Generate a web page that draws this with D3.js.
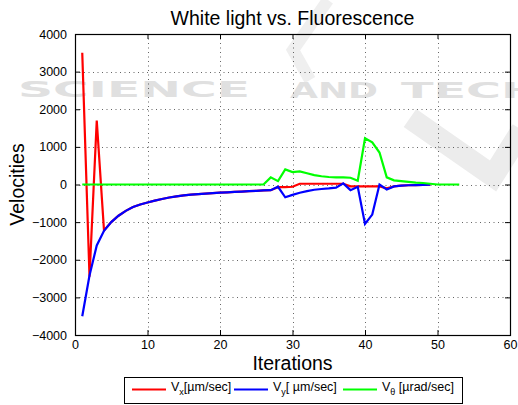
<!DOCTYPE html>
<html>
<head>
<meta charset="utf-8">
<script src="https://cdn.jsdelivr.net/npm/d3@7"></script>
<style>
  body { margin: 0; background: #fff; }
  svg { display: block; font-family: "Liberation Sans", Arial, Helvetica, sans-serif; }
</style>
</head>
<body>
<svg id="chart" width="518" height="405"></svg>
<script>
// Velocity series, one value per iteration (starting at iteration 1)
const vx = [3500, -2450, 1700, -1220, -1000, -830, -700, -600, -530, -480,
    -430, -385, -345, -315, -290, -270, -255, -240, -228, -218,
    -208, -198, -188, -178, -168, -158, -150, -70, -70, -60,
    20, 20, 20, 20, 20, 20, 20, -50, -50, -50,
    -50, -50, -100, -50, -30, -20, -15, -10, -5];
const vy = [-3500, -2420, -1620, -1230, -1000, -830, -700, -600, -530, -480,
    -430, -385, -345, -315, -290, -270, -255, -240, -228, -218,
    -208, -198, -188, -178, -168, -158, -150, -60, -340, -275,
    -220, -175, -140, -120, -105, -85, 30, -150, -60, -1050,
    -800, 0, -130, -50, -30, -20, -15, -10, -5];
const vtheta = [0, 0, 0, 0, 0, 0, 0, 0, 0, 0,
    0, 0, 0, 0, 0, 0, 0, 0, 0, 0,
    0, 0, 0, 0, 0, 0, 190, 90, 400, 330,
    350, 300, 250, 220, 200, 190, 190, 180, 100, 1230,
    1120, 850, 190, 110, 90, 70, 50, 40, 20, 0,
    0, 0, 0];

const xTicks = [0, 10, 20, 30, 40, 50, 60];
const yTicks = [-4000, -3000, -2000, -1000, 0, 1000, 2000, 3000, 4000];

const series = [
    { name: "x", unit: "[\u00b5m/sec]", color: "#ff0000", values: vx },
    { name: "y", unit: "[ \u00b5m/sec]", color: "#0000ff", values: vy },
    { name: "\u03b8", unit: " [\u00b5rad/sec]", color: "#00ff00", values: vtheta }
];

const svg = d3.select("#chart");
const pLeft = 75, pRight = 510, pTop = 34, pBottom = 335;

// faint publisher watermark behind the figure
const wm = svg.append("g").attr("fill", "#e0e0e0").attr("font-weight", "bold")
    .attr("font-family", "'DejaVu Sans', sans-serif");
wm.append("path").attr("d", "M410,118 L493,176 L522,130")
    .attr("fill", "none").attr("stroke", "#ececec").attr("stroke-width", 22);
wm.append("path").attr("d", "M328,0 L293,50 L310,80")
    .attr("fill", "none").attr("stroke", "#efefef").attr("stroke-width", 12);
wm.append("text").attr("x", 18).attr("y", 97).attr("font-size", 21)
    .attr("textLength", 232).attr("lengthAdjust", "spacingAndGlyphs").text("SCIENCE");
wm.append("text").attr("x", 290).attr("y", 98).attr("font-size", 22)
    .attr("textLength", 88).attr("lengthAdjust", "spacingAndGlyphs").text("AND");
wm.append("text").attr("x", 401).attr("y", 98).attr("font-size", 22)
    .attr("textLength", 140).attr("lengthAdjust", "spacingAndGlyphs").text("TECH");

const x = d3.scaleLinear().domain([0, 60]).range([pLeft, pRight]);
const y = d3.scaleLinear().domain([-4000, 4000]).range([pBottom, pTop]);

// dotted grid
const grid = svg.append("g").attr("stroke", "#333").attr("stroke-width", 1)
    .attr("stroke-dasharray", "1,3.5").attr("opacity", 0.75);
grid.selectAll(".gx").data(xTicks.slice(1, -1)).join("line")
    .attr("x1", d => Math.round(x(d)) + 0.5).attr("x2", d => Math.round(x(d)) + 0.5)
    .attr("y1", pTop).attr("y2", pBottom);
grid.selectAll(".gy").data(yTicks.slice(1, -1)).join("line")
    .attr("y1", d => Math.round(y(d)) + 0.5).attr("y2", d => Math.round(y(d)) + 0.5)
    .attr("x1", pLeft).attr("x2", pRight);

// lines: red, then blue, then green on top
const line = d3.line().x((d, i) => x(i + 1)).y(d => y(d));
svg.append("g").selectAll("path").data(series).join("path")
    .attr("fill", "none")
    .attr("stroke", d => d.color)
    .attr("stroke-width", 2.2)
    .attr("stroke-linejoin", "miter")
    .attr("d", d => line(d.values));

// axes with inward ticks on all four sides
const fmt = d => d < 0 ? "\u2212" + Math.abs(d) : String(d);
const axB = svg.append("g").attr("transform", `translate(0,${pBottom})`)
    .call(d3.axisBottom(x).tickValues(xTicks).tickSizeInner(-5).tickSizeOuter(0).tickPadding(8));
const axT = svg.append("g").attr("transform", `translate(0,${pTop})`)
    .call(d3.axisTop(x).tickValues(xTicks).tickSizeInner(-5).tickSizeOuter(0).tickFormat(""));
const axL = svg.append("g").attr("transform", `translate(${pLeft},0)`)
    .call(d3.axisLeft(y).tickValues(yTicks).tickFormat(fmt).tickSizeInner(-5).tickSizeOuter(0).tickPadding(8));
const axR = svg.append("g").attr("transform", `translate(${pRight},0)`)
    .call(d3.axisRight(y).tickValues(yTicks).tickSizeInner(-5).tickSizeOuter(0).tickFormat(""));
[axB, axT, axL, axR].forEach(a => {
    a.select(".domain").remove();
    a.selectAll("line").attr("stroke", "#000");
    a.selectAll("text").attr("font-size", 12.5).attr("fill", "#000")
        .attr("font-family", "'Liberation Sans', Arial, sans-serif");
});
axB.selectAll("text").attr("dy", "0.71em").attr("y", 5);

svg.append("rect").attr("x", pLeft + 0.5).attr("y", pTop + 0.5)
    .attr("width", pRight - pLeft).attr("height", pBottom - pTop)
    .attr("fill", "none").attr("stroke", "#000").attr("stroke-width", 1.2);

// titles
svg.append("text").attr("x", (pLeft + pRight) / 2).attr("y", 25)
    .attr("text-anchor", "middle").attr("font-size", 19.5).text("White light vs. Fluorescence");
svg.append("text").attr("x", (pLeft + pRight) / 2).attr("y", 370)
    .attr("text-anchor", "middle").attr("font-size", 19.5).text("Iterations");
svg.append("text").attr("transform", `translate(24,${(pTop + pBottom) / 2}) rotate(-90)`)
    .attr("text-anchor", "middle").attr("font-size", 19.5).text("Velocities");

// legend
const lg = svg.append("g");
lg.append("rect").attr("x", 124.5).attr("y", 377.5).attr("width", 338).attr("height", 26)
    .attr("fill", "#fff").attr("stroke", "#000").attr("stroke-width", 1);
const lx = [132, 234, 343];
const items = lg.selectAll(".item").data(series).join("g")
    .attr("transform", (d, i) => `translate(${lx[i]},389.5)`);
items.append("line").attr("x1", 0).attr("x2", 34)
    .attr("stroke", d => d.color).attr("stroke-width", 2.2);
const t = items.append("text").attr("x", 39).attr("y", 1.5).attr("font-size", 12.5);
t.append("tspan").text("V");
t.append("tspan").attr("font-size", 9).attr("dy", 4).text(d => d.name);
t.append("tspan").attr("dy", -4).text(d => d.unit);
</script>
</body>
</html>
